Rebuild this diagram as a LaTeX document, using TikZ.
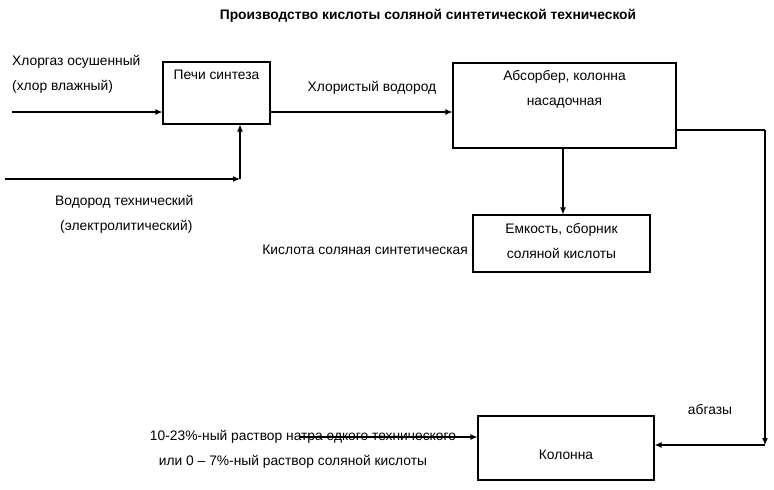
\documentclass[tikz,border=0pt]{standalone}
\usepackage{fontspec}
\setmainfont{Liberation Sans}
\tikzstyle{unit}=[draw=black,line width=1.1pt,inner sep=0pt]
\tikzstyle{flow}=[draw=black,line width=1.1pt,-{Latex[length=7pt,width=6pt]}]
\tikzstyle{lbl}=[font=\fontsize{13.8}{16}\selectfont,inner sep=0pt]
\usetikzlibrary{arrows.meta}
\begin{document}
\begin{tikzpicture}[x=1pt,y=-1pt]

   \useasboundingbox (0,0) rectangle (774,490);

   \node[lbl,font=\fontsize{13.8}{16}\selectfont\bfseries] (title) at (428,16) {Производство кислоты соляной синтетической технической};

   % units
   \node[unit,minimum width=107pt,minimum height=62pt] (furn) at (216.5,93) {};
   \node[lbl] at (216.5,75) {Печи синтеза};
   \node[unit,minimum width=223pt,minimum height=85pt] (abs) at (564.5,105.5) {};
   \node[lbl,align=center] at (564.5,89) {Абсорбер, колонна\\[9pt]насадочная};
   \node[unit,minimum width=177pt,minimum height=57pt] (tank) at (561.5,243.5) {};
   \node[lbl,align=center] at (561.5,241) {Емкость, сборник\\[9pt]соляной кислоты};
   \node[unit,minimum width=176pt,minimum height=64pt] (col) at (566,448) {};
   \node[lbl] at (566,455) {Колонна};

   % free ends
   \coordinate (cl) at (12,112);
   \coordinate (h2) at (5,179);
   \coordinate (h2t) at (240,179);
   \coordinate (naoh) at (300,437);
   \coordinate (gr) at (765,130);
   \coordinate (gd) at (765,445);

   \draw[flow] (cl) -- (cl -| furn.west);
   \draw[flow] (h2) -- (h2t);
   \draw[flow] (h2t) -- (h2t |- furn.south);
   \draw[flow] (furn.east |- 0,112) -- (abs.west |- 0,112);
   \draw[flow] (abs.south -| 563,0) -- (tank.north -| 563,0);
   \draw[line width=1.1pt] (abs.east |- gr) -- (gr);
   \draw[flow] (gr) -- (gd);
   \draw[flow] (gd) -- (col.east |- gd);
   \draw[flow] (naoh) -- (naoh -| col.west);

   % labels
   \node[lbl,anchor=west] at (12,62) {Хлоргаз осушенный};
   \node[lbl,anchor=west] at (12,87) {(хлор влажный)};
   \node[lbl,anchor=west] at (55,202) {Водород технический};
   \node[lbl,anchor=west] at (60,227) {(электролитический)};
   \node[lbl] at (372,88) {Хлористый водород};
   \node[lbl,anchor=east] at (468,250) {Кислота соляная синтетическая};
   \node[lbl] at (710,410) {абгазы};
   \node[lbl] at (303,437) {10-23\%-ный раствор натра едкого технического};
   \node[lbl] at (293,462) {или 0 – 7\%-ный раствор соляной кислоты};

\end{tikzpicture}
\end{document}
